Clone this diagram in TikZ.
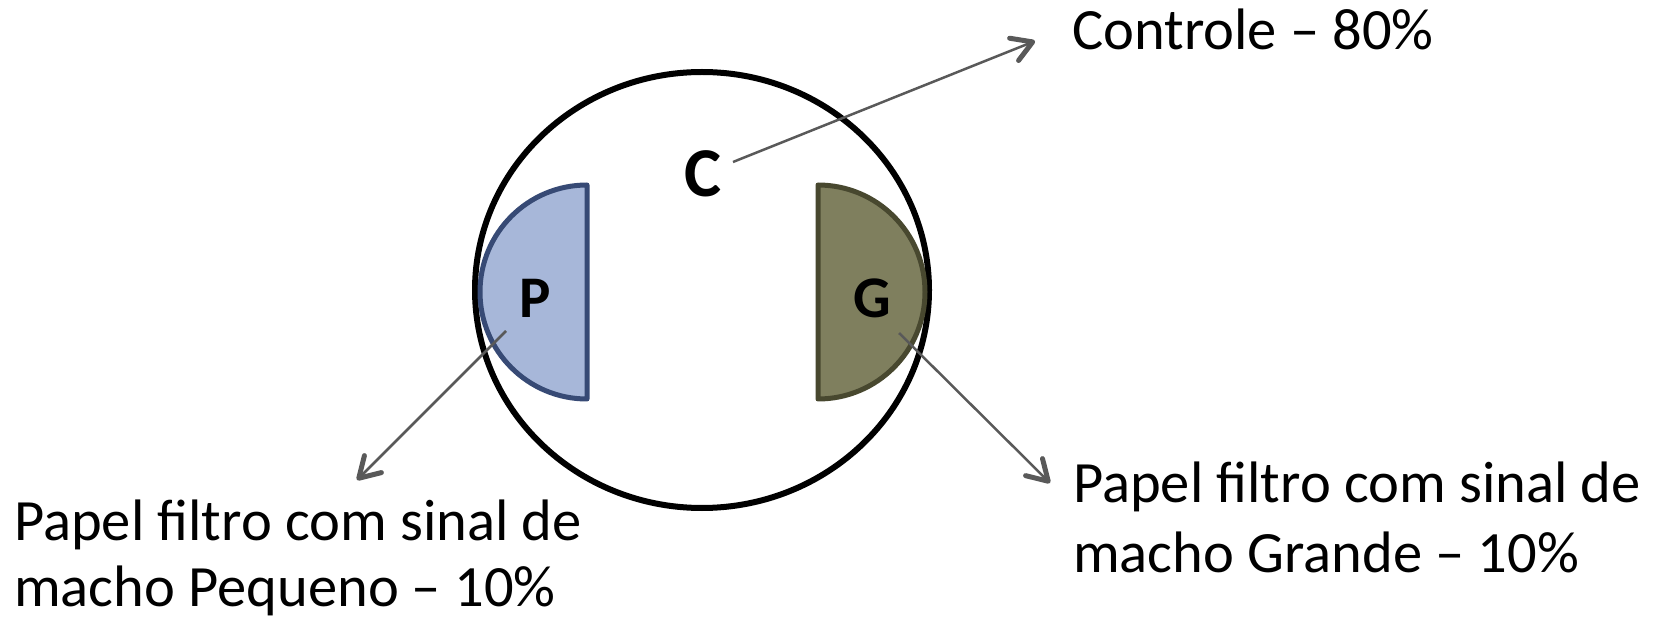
\documentclass[tikz,border=0pt]{standalone}
\usepackage{fontspec}
\setmainfont{Carlito}
\usetikzlibrary{arrows.meta}
\definecolor{pfill}{HTML}{A7B7D9}
\definecolor{pline}{HTML}{374A75}
\definecolor{gfill}{HTML}{7F7F5E}
\definecolor{gline}{HTML}{48482F}
\definecolor{arrowgray}{HTML}{595959}
\tikzset{
  lbl/.style={font=\fontsize{58.5}{68}\selectfont, inner sep=0pt, align=left, anchor=base west},
  letter/.style={font=\bfseries\fontsize{59}{59}\selectfont, inner sep=0pt},
  pointer/.style={draw=arrowgray, line width=2.5pt, -{Straight Barb[length=20pt,width=24pt,line width=5pt,round]}},
  half/.style={line width=5pt, line join=round}
}
\begin{document}
\begin{tikzpicture}[x=1pt,y=1pt]
\useasboundingbox (0,0) rectangle (1655,619);
% dish
\coordinate (dish) at (702,329);
\draw[line width=6pt] (dish) ellipse[x radius=227, y radius=218];
% half discs
\draw[half, fill=pfill, draw=pline] (587,434) arc[start angle=90, end angle=270, radius=107] -- cycle;
\draw[half, fill=gfill, draw=gline] (818,434) arc[start angle=90, end angle=-90, radius=107] -- cycle;
% letters
\node[letter, font=\bfseries\fontsize{70}{70}\selectfont] (C) at (703,445) {C};
\node[letter] (P) at (535,321) {P};
\node[letter] (G) at (872,321) {G};
% labels
\node[lbl] (lc) at (1072,569) {Controle – 80\%};
\node[lbl, font=\fontsize{58.5}{66}\selectfont] (lp) at (14,13) {Papel filtro com sinal de\\macho Pequeno – 10\%};
\node[lbl, font=\fontsize{58.5}{70}\selectfont] (lg) at (1073,47) {Papel filtro com sinal de\\macho Grande – 10\%};
% arrow endpoints
\coordinate (cs) at (733,457);
\coordinate (ce) at (1035,578);
\coordinate (ps) at (506,288);
\coordinate (pe) at (357,139);
\coordinate (gs) at (899,286);
\coordinate (ge) at (1050,136);
\draw[pointer] (cs) -- (ce);
\draw[pointer] (ps) -- (pe);
\draw[pointer] (gs) -- (ge);
\end{tikzpicture}
\end{document}
